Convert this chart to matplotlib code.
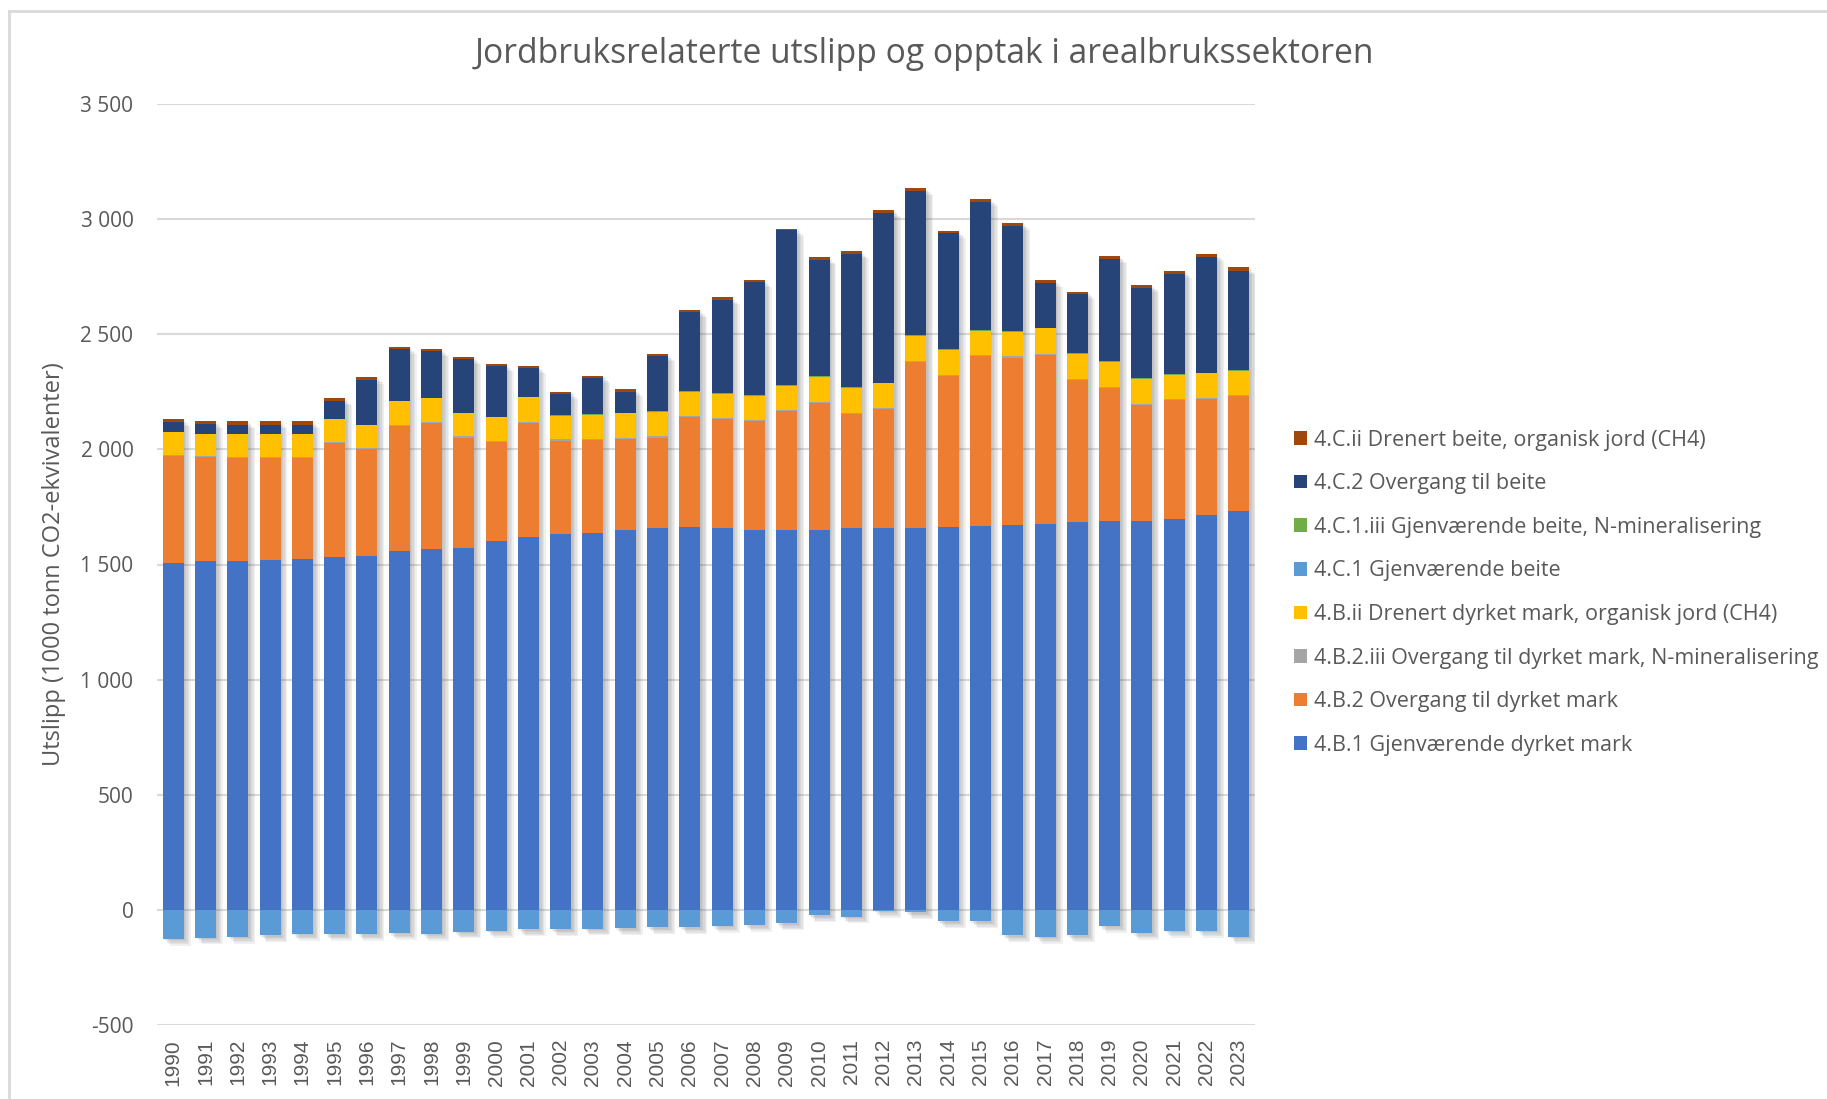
import matplotlib
matplotlib.use('Agg')
import matplotlib.pyplot as plt
import matplotlib.patheffects as pe
from matplotlib.lines import Line2D
from matplotlib.patches import Patch
import numpy as np

years = [str(y) for y in range(1990, 2024)]

# 4.B.1 Gjenværende dyrket mark
b1 = [1508, 1514, 1514, 1519, 1524, 1532, 1538, 1558, 1567, 1573, 1603, 1618,
      1632, 1638, 1648, 1658, 1662, 1657, 1652, 1652, 1648, 1657, 1657, 1657,
      1663, 1667, 1671, 1677, 1683, 1691, 1691, 1697, 1717, 1732]
# 4.B.2 Overgang til dyrket mark
b2 = [463, 451, 447, 442, 437, 496, 465, 542, 546, 478, 428, 496,
      406, 404, 397, 393, 477, 473, 470, 514, 552, 498, 518, 723,
      655, 738, 728, 732, 618, 574, 501, 517, 501, 499]
# 4.B.2.iii Overgang til dyrket mark, N-mineralisering
b2iii = [5] * 34
# 4.B.ii Drenert dyrket mark, organisk jord (CH4)
bii = [99, 97, 101, 101, 101, 98, 98, 103, 104, 101, 105, 107,
       104, 104, 107, 108, 107, 107, 105, 106, 109, 107, 107, 107,
       108, 105, 107, 111, 108, 109, 110, 106, 107, 106]
# 4.C.1 Gjenværende beite (opptak)
c1 = [-125, -120, -116, -110, -104, -104, -104, -100, -103, -94, -90, -85,
      -84, -81, -80, -75, -75, -69, -65, -59, -23, -29, -3, -10,
      -49, -49, -110, -116, -110, -69, -100, -90, -90, -116]
# 4.C.1.iii Gjenværende beite, N-mineralisering
c1iii = [0, 0, 0, 0, 0, 0, 0, 0, 0, 0, 0, 0,
         3, 3, 3, 3, 3, 3, 3, 3, 3, 3, 3, 3,
         3, 3, 3, 3, 3, 3, 3, 3, 3, 3]
# 4.C.2 Overgang til beite
c2 = [43, 44, 41, 41, 41, 81, 195, 226, 204, 234, 221, 126,
      92, 156, 91, 239, 341, 405, 490, 671, 504, 577, 736, 625,
      506, 557, 457, 193, 259, 443, 391, 433, 502, 431]
# 4.C.ii Drenert beite, organisk jord (CH4)
cii = [13, 11, 14, 14, 14, 9, 15, 12, 10, 10, 9, 9,
       9, 10, 10, 8, 10, 10, 10, 8, 13, 13, 13, 14,
       9, 13, 13, 14, 9, 14, 14, 15, 14, 14]

labels = ['4.B.1 Gjenværende dyrket mark',
          '4.B.2 Overgang til dyrket mark',
          '4.B.2.iii Overgang til dyrket mark, N-mineralisering',
          '4.B.ii Drenert dyrket mark, organisk jord (CH4)',
          '4.C.1 Gjenværende beite',
          '4.C.1.iii Gjenværende beite, N-mineralisering',
          '4.C.2 Overgang til beite',
          '4.C.ii Drenert beite, organisk jord (CH4)']
colors = ['#4472C4', '#ED7D31', '#A5A5A5', '#FFC000',
          '#5B9BD5', '#70AD47', '#264478', '#9E480E']

TEXT = '#595959'
GRID = '#D9D9D9'

fig = plt.figure(figsize=(18.27, 10.99), dpi=100)
ax = fig.add_axes([157 / 1827, 1 - 1025 / 1099, 1098 / 1827, 921 / 1099])

x = np.arange(len(years))
w = 0.65

# positive stack
pos_series = [b1, b2, b2iii, bii, c1iii, c2, cii]
pos_colors = [colors[0], colors[1], colors[2], colors[3], colors[5], colors[6], colors[7]]
total = np.sum(np.array(pos_series), axis=0)
neg = np.array(c1)

# soft drop shadow behind the whole bar (a few faint layers)
sh = ax.bar(x, total - neg, bottom=neg, width=w, color='none', zorder=2)
shadow = [pe.SimplePatchShadow(offset=(o, -o), shadow_rgbFace='#606060', alpha=0.09)
          for o in (1, 2, 3, 4, 5)]
for p in sh:
    p.set_path_effects(shadow)

bottom = np.zeros(len(years))
for vals, col in zip(pos_series, pos_colors):
    ax.bar(x, vals, bottom=bottom, width=w, color=col, zorder=3)
    bottom += np.array(vals)
ax.bar(x, c1, width=w, color=colors[4], zorder=3)

ax.set_ylim(-500, 3500)
ax.set_xlim(-0.5, len(years) - 0.5)
ax.set_yticks(np.arange(-500, 3501, 500))
ax.yaxis.set_major_formatter(matplotlib.ticker.FuncFormatter(lambda v, p: f'{int(v):,}'.replace(',', ' ')))
ax.set_xticks(x)
ax.set_xticklabels(years, rotation=90, fontsize=15, color=TEXT, family='Liberation Sans')
for t in ax.get_yticklabels():
    t.set_fontsize(15)
    t.set_color(TEXT)
    t.set_family('Open Sans')
ax.tick_params(length=0, pad=10)
ax.tick_params(axis='y', pad=17)
ax.grid(axis='y', color=GRID, linewidth=1.5, zorder=0)
ax.set_axisbelow(True)
for s in ax.spines.values():
    s.set_visible(False)

ax.set_ylabel('Utslipp (1000 tonn CO2-ekvivalenter)', fontsize=17, color=TEXT,
              family='Open Sans')
ax.yaxis.set_label_coords(-0.083, 0.5)

fig.text(924 / 1827, 1 - 54 / 1099, 'Jordbruksrelaterte utslipp og opptak i arealbrukssektoren',
         ha='center', va='center', fontsize=24.2, color=TEXT, family='Open Sans')

handles = [Patch(facecolor=c) for c in colors][::-1]
leg = fig.legend(handles, labels[::-1], loc='upper left', bbox_to_anchor=(1285 / 1827, 1 - 421 / 1099),
                 frameon=False, prop={'family': 'Open Sans', 'size': 15.5},
                 handlelength=0.6, handleheight=0.6, handletextpad=0.35, labelspacing=1.05,
                 borderaxespad=0)
for t in leg.get_texts():
    t.set_color(TEXT)

# chart border (left and top edges visible)
fig.add_artist(Line2D([9 / 1827, 9 / 1827], [0, 1 - 11 / 1099], color=GRID, linewidth=2))
fig.add_artist(Line2D([9 / 1827, 1], [1 - 11 / 1099, 1 - 11 / 1099], color=GRID, linewidth=2))

fig.savefig('out.png', dpi=100)
